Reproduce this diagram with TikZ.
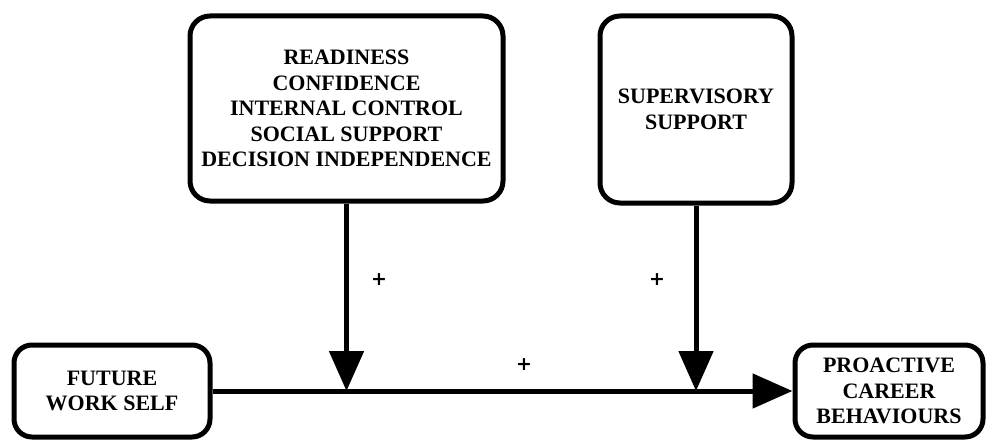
\documentclass[tikz,border=0pt]{standalone}
\usepackage{fontspec}
\setmainfont{Liberation Serif}
\newfontfamily\plusfont{DejaVu Sans}
\usetikzlibrary{arrows.meta}
\begin{document}
\begin{tikzpicture}[x=1pt,y=-1pt,
  box/.style={draw=black, line width=5pt, rounded corners=20pt, rectangle, align=center,
    font=\fontsize{22}{25.5}\selectfont\bfseries, inner sep=0pt, fill=white},
  conn/.style={line width=5pt, -{Triangle[length=40pt,width=34pt]}},
  plus/.style={font=\plusfont\fontsize{19}{22}\selectfont\bfseries, inner sep=0pt}]
\useasboundingbox (0,0) rectangle (988,441);
\node[box, minimum width=313pt, minimum height=185pt] (b1) at (346.5,108.5)
  {READINESS\\CONFIDENCE\\INTERNAL CONTROL\\SOCIAL SUPPORT\\DECISION INDEPENDENCE};
\node[box, minimum width=192pt, minimum height=187pt] (b2) at (696,109.5)
  {SUPERVISORY\\SUPPORT};
\node[box, rounded corners=18pt, minimum width=196pt, minimum height=92pt] (b3) at (112,391)
  {FUTURE\\WORK SELF};
\node[box, rounded corners=18pt, minimum width=188pt, minimum height=92pt] (b4) at (889,391)
  {PROACTIVE\\CAREER\\BEHAVIOURS};
\coordinate (j1) at (346.5,391);
\coordinate (j2) at (696,391);
\draw[conn] (b3.east) -- (b4.west);
\draw[conn] (b1.south) -- (j1);
\draw[conn] (b2.south) -- (j2);
\node[plus] (p1) at (379,280) {+};
\node[plus] (p2) at (657,280) {+};
\node[plus] (p3) at (524,365) {+};
\end{tikzpicture}
\end{document}
